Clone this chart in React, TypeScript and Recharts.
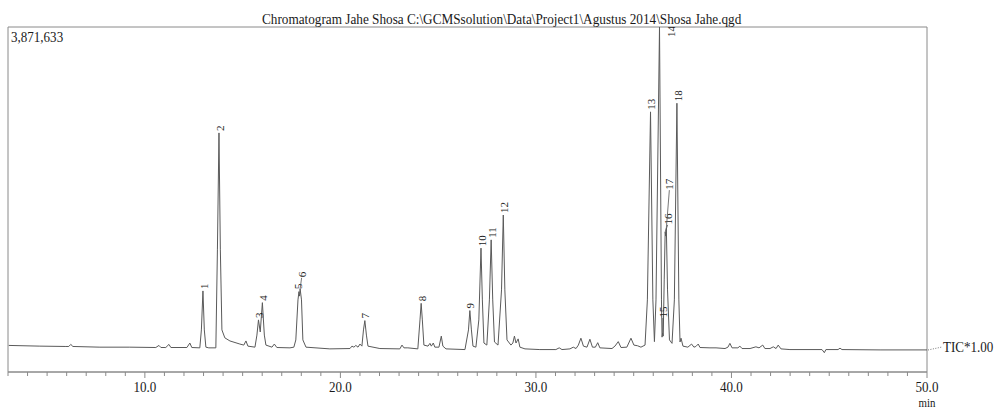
import { ComposedChart, Line, Scatter, XAxis, YAxis, ReferenceArea } from "recharts";

// retention time (min) vs. signal (% of full scale)
const trace: [number, number][] = [
  [3.04, 7.7], [4.63, 7.5], [5.96, 7.4], [6.11, 7.4], [6.21, 8.0], [6.32, 7.4], [7.7, 7.2], [9.23, 7.2],
  [10.56, 7.1], [10.72, 7.7], [10.82, 7.1], [11.07, 7.1], [11.23, 8.0], [11.33, 7.1], [12.15, 7.1], [12.3, 8.4],
  [12.4, 7.1], [12.81, 7.0], [12.89, 12.2], [12.97, 23.5], [13.04, 12.2], [13.12, 7.2], [13.27, 7.0], [13.63, 7.0],
  [13.71, 35.4], [13.79, 69.3], [13.86, 35.4], [13.94, 12.2], [14.09, 9.9], [14.35, 9.0], [14.86, 8.1], [15.06, 7.8],
  [15.17, 9.0], [15.27, 7.5], [15.63, 7.2], [15.73, 10.7], [15.81, 15.1], [15.9, 11.6], [16.01, 20.1], [16.11, 10.7],
  [16.19, 7.8], [16.5, 7.2], [16.62, 8.1], [16.75, 7.1], [17.42, 7.0], [17.62, 7.2], [17.72, 9.3], [17.83, 20.9],
  [17.88, 23.3], [17.91, 22.0], [17.94, 24.1], [18.01, 20.9], [18.08, 9.3], [18.24, 7.2], [19.46, 6.7], [20.49, 6.8],
  [20.59, 7.5], [20.69, 7.2], [20.79, 7.7], [20.9, 7.2], [21.0, 8.1], [21.1, 7.5], [21.18, 12.2], [21.25, 14.9],
  [21.33, 10.7], [21.41, 7.5], [22.02, 6.8], [23.04, 6.7], [23.15, 7.8], [23.25, 7.0], [23.45, 7.0], [23.96, 6.7],
  [24.07, 15.1], [24.13, 19.9], [24.19, 15.1], [24.27, 7.8], [24.48, 7.5], [24.58, 8.3], [24.65, 7.5], [24.75, 8.4],
  [24.83, 7.2], [25.04, 7.2], [25.16, 10.4], [25.24, 7.5], [25.4, 6.7], [26.37, 6.5], [26.55, 12.2], [26.62, 17.8],
  [26.7, 12.2], [26.78, 7.5], [26.93, 7.2], [27.08, 15.1], [27.19, 35.9], [27.26, 20.9], [27.34, 8.4], [27.49, 7.8],
  [27.62, 20.9], [27.71, 38.3], [27.79, 20.9], [27.88, 8.7], [28.06, 7.8], [28.24, 23.8], [28.33, 45.5], [28.41, 23.8],
  [28.52, 9.3], [28.72, 7.8], [28.82, 8.4], [28.9, 10.4], [28.98, 8.4], [29.09, 9.6], [29.18, 7.2], [29.44, 6.7],
  [30.2, 6.5], [31.02, 6.5], [31.19, 7.0], [31.33, 6.5], [31.74, 6.7], [31.91, 7.2], [32.05, 6.8], [32.17, 7.8],
  [32.3, 9.8], [32.43, 7.5], [32.61, 7.2], [32.76, 9.5], [32.89, 7.2], [33.04, 7.2], [33.16, 8.5], [33.27, 7.0],
  [33.89, 6.8], [34.04, 7.5], [34.21, 8.8], [34.35, 7.1], [34.65, 7.2], [34.86, 9.8], [35.01, 7.8], [35.2, 7.6],
  [35.37, 7.2], [35.58, 7.8], [35.7, 20.9], [35.86, 75.4], [35.98, 20.9], [36.06, 8.8], [36.14, 20.9], [36.32, 100],
  [36.42, 20.9], [36.45, 10.1], [36.48, 11.3], [36.51, 10.4], [36.56, 26.7], [36.61, 40.6], [36.64, 39.4], [36.67, 41.7],
  [36.73, 23.8], [36.83, 9.3], [36.96, 8.3], [37.08, 20.9], [37.21, 77.9], [37.31, 20.9], [37.37, 8.7], [37.42, 9.8],
  [37.52, 7.5], [37.77, 7.2], [37.96, 8.1], [38.08, 7.2], [38.18, 7.4], [38.3, 8.1], [38.39, 7.1], [38.9, 7.0],
  [39.21, 7.0], [39.67, 6.8], [39.82, 7.2], [39.92, 8.3], [40.03, 7.0], [40.33, 7.0], [40.43, 7.5], [40.54, 6.8],
  [40.95, 6.8], [41.25, 7.3], [41.41, 7.0], [41.6, 7.8], [41.71, 6.8], [41.97, 6.8], [42.14, 7.3], [42.28, 6.8],
  [42.39, 7.8], [42.53, 6.7], [42.99, 6.5], [44.63, 6.5], [44.75, 5.6], [44.83, 6.5], [45.45, 6.5], [45.55, 6.9],
  [45.65, 6.5], [47.6, 6.4], [50.0, 6.4],
];

const peakIds = ["1", "2", "3", "4", "5", "6", "7", "8", "9", "10", "11", "12", "13", "14", "15", "16", "17", "18"];
const peakTimes = [12.97, 13.79, 15.81, 16.01, 17.88, 17.94, 21.25, 24.13, 26.62, 27.19, 27.71, 28.33, 35.86, 36.32, 36.48, 36.61, 36.67, 37.21];
const peakHeights = [23.5, 69.3, 15.1, 20.1, 23.3, 24.1, 14.9, 19.9, 17.8, 35.9, 38.3, 45.5, 75.4, 100, 11.3, 40.6, 41.7, 77.9];

const fullScale = "3,871,633";
const title = "Chromatogram Jahe Shosa C:\\GCMSsolution\\Data\\Project1\\Agustus 2014\\Shosa Jahe.qgd";
const majorTicks = [10, 20, 30, 40, 50];
const minorTicks = Array.from({ length: 48 }, (_, i) => i + 3);

const traceData = trace.map(([t, p]) => ({ t, p }));
const peakData = peakIds.map((id, i) => ({ id, t: peakTimes[i], p: peakHeights[i] }));

const FONT = "Liberation Serif, Times New Roman, serif";
const SX = 0.87;
const INK = "#1a1a1a";
const FRAME = "#8a8a8a";

// label shifts for crowded peaks: dx px to the right, lift px above apex, leader line
const labelTweak: Record<string, { dx: number; lift: number; leader?: boolean }> = {
  "5": { dx: -1.2, lift: 2 },
  "6": { dx: 1.5, lift: 11, leader: true },
  "14": { dx: 11.5, lift: -10.5 },
  "15": { dx: 0.2, lift: 15, leader: true },
  "16": { dx: 2.5, lift: 7, leader: true },
  "17": { dx: 3, lift: 38, leader: true },
};

function Txt({ x, y, children, size = 15, anchor = "start" }: any) {
  return (
    <text
      transform={`translate(${x},${y}) scale(${SX},1)`}
      style={{ fontFamily: FONT, fontSize: size }}
      fill={INK}
      textAnchor={anchor}
    >
      {children}
    </text>
  );
}

function PeakLabel(props: any) {
  const { cx, cy, payload } = props;
  if (cx == null || cy == null) return <g />;
  const tw = labelTweak[payload.id] || { dx: 0.6, lift: 1.5 };
  const lx = cx + tw.dx;
  const ly = cy - tw.lift;
  return (
    <g>
      {tw.leader && <line x1={cx} y1={cy} x2={lx} y2={ly} stroke="#555" strokeWidth={0.8} />}
      <text
        transform={`translate(${lx},${ly - 0.5}) rotate(-90)`}
        style={{ fontFamily: FONT, fontSize: 11 }}
        fill={INK}
        dominantBaseline="central"
      >
        {payload.id}
      </text>
    </g>
  );
}

function TimeTick(props: any) {
  const { x, y, payload } = props;
  const major = majorTicks.includes(payload.value);
  return (
    <g>
      <line x1={x} y1={y} x2={x} y2={y + (major ? 6 : 4)} stroke={FRAME} strokeWidth={1} />
      {major && (
        <Txt x={x} y={y + 20} anchor="middle">
          {payload.value.toFixed(1)}
        </Txt>
      )}
    </g>
  );
}

export default function App() {
  return (
    <div style={{ position: "absolute", left: 0, top: 0, width: 995, height: 410, background: "#fff" }}>
      <ComposedChart width={995} height={410} margin={{ top: 27, right: 68, bottom: 0, left: 8 }}>
        <XAxis
          type="number"
          dataKey="t"
          domain={[3, 50]}
          ticks={minorTicks}
          interval={0}
          allowDataOverflow
          height={38}
          tickSize={0}
          tickMargin={0}
          tickLine={false}
          axisLine={{ stroke: FRAME }}
          tick={<TimeTick />}
        />
        <YAxis type="number" dataKey="p" domain={[0, 100]} allowDataOverflow hide />
        <ReferenceArea x1={3} x2={50} y1={0} y2={100} fill="none" stroke={FRAME} strokeWidth={1} />
        <Line
          data={traceData}
          dataKey="p"
          type="linear"
          stroke="#5a5a5a"
          strokeWidth={1}
          dot={false}
          isAnimationActive={false}
        />
        <Scatter data={peakData} dataKey="p" shape={<PeakLabel />} isAnimationActive={false} />
      </ComposedChart>
      <svg width={995} height={410} style={{ position: "absolute", left: 0, top: 0, pointerEvents: "none" }}>
        <Txt x={262} y={24} size={15.2}>{title}</Txt>
        <Txt x={11} y={42}>{fullScale}</Txt>
        <line x1={928} y1={350} x2={942} y2={347} stroke="#777" strokeWidth={1} strokeDasharray="1 1.5" />
        <Txt x={943} y={351.5}>TIC*1.00</Txt>
        <Txt x={927} y={407} size={12.5} anchor="middle">min</Txt>
      </svg>
    </div>
  );
}
